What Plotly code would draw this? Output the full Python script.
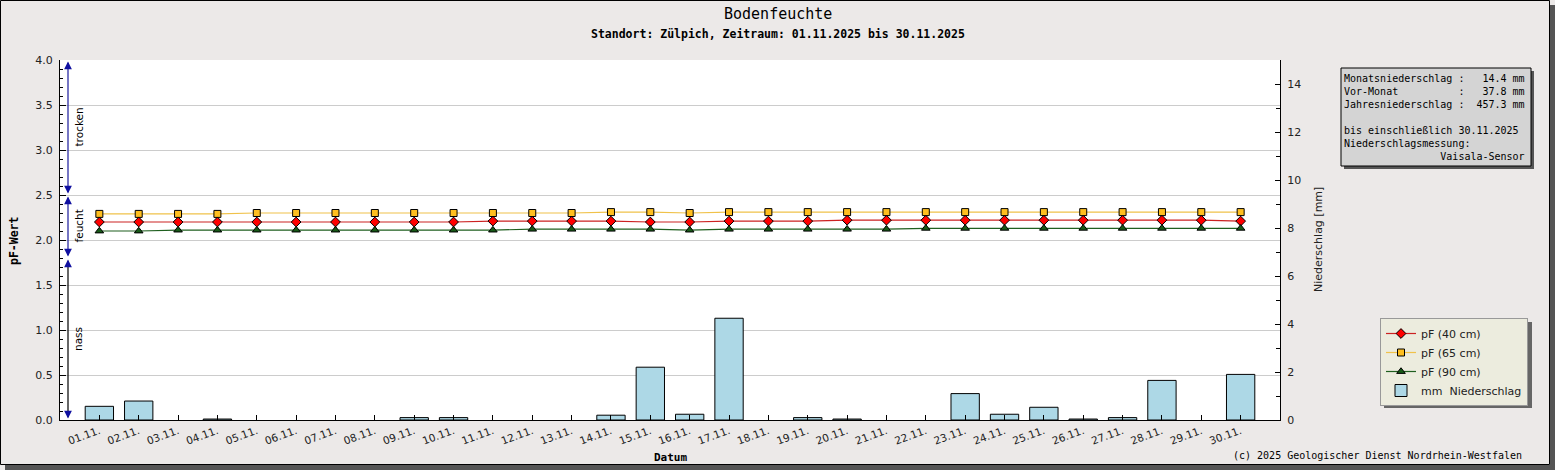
import plotly.graph_objects as go

# Tage im November 2025
tage = ["01.11.", "02.11.", "03.11.", "04.11.", "05.11.", "06.11.", "07.11.", "08.11.",
        "09.11.", "10.11.", "11.11.", "12.11.", "13.11.", "14.11.", "15.11.", "16.11.",
        "17.11.", "18.11.", "19.11.", "20.11.", "21.11.", "22.11.", "23.11.", "24.11.",
        "25.11.", "26.11.", "27.11.", "28.11.", "29.11.", "30.11."]

# pF-Werte je Tiefe
pf_40 = [2.20, 2.20, 2.20, 2.20, 2.20, 2.20, 2.20, 2.20, 2.20, 2.20,
         2.21, 2.21, 2.21, 2.21, 2.20, 2.20, 2.21, 2.21, 2.21, 2.22,
         2.22, 2.22, 2.22, 2.22, 2.22, 2.22, 2.22, 2.22, 2.22, 2.21]
pf_65 = [2.29, 2.29, 2.29, 2.29, 2.30, 2.30, 2.30, 2.30, 2.30, 2.30,
         2.30, 2.30, 2.30, 2.31, 2.31, 2.30, 2.31, 2.31, 2.31, 2.31,
         2.31, 2.31, 2.31, 2.31, 2.31, 2.31, 2.31, 2.31, 2.31, 2.31]
pf_90 = [2.10, 2.10, 2.11, 2.11, 2.11, 2.11, 2.11, 2.11, 2.11, 2.11,
         2.11, 2.12, 2.12, 2.12, 2.12, 2.11, 2.12, 2.12, 2.12, 2.12,
         2.12, 2.13, 2.13, 2.13, 2.13, 2.13, 2.13, 2.13, 2.13, 2.13]

# Niederschlag in mm
niederschlag = [0.57, 0.79, 0.0, 0.04, 0.0, 0.0, 0.0, 0.0, 0.1, 0.1,
                0.0, 0.0, 0.0, 0.2, 2.2, 0.24, 4.24, 0.0, 0.1, 0.04,
                0.0, 0.0, 1.1, 0.24, 0.53, 0.04, 0.1, 1.65, 0.0, 1.9]

# Bereiche fuer die Pfeile links
zonen = ["nass", "feucht", "trocken"]
zonen_grenzen = [0.0, 1.8, 2.5, 4.0]
zonen_farben = ["black", "#1c1c9c", "#1c1c9c"]

info_zeilen = [
    "Monatsniederschlag :   14.4 mm",
    "Vor-Monat          :   37.8 mm",
    "Jahresniederschlag :  457.3 mm",
    "",
    "bis einschließlich 30.11.2025",
    "Niederschlagsmessung:",
    "                Vaisala-Sensor",
]

W, H = 1555, 470
L, R, T, B = 60, 1280, 60, 420
BG = "#ece9e8"
MONO = "DejaVu Sans Mono"
SANS = "DejaVu Sans"


def xp(px):
    return (px - L) / (R - L)


def yp(py):
    return (B - py) / (B - T)


x = list(range(len(tage)))

fig = go.Figure()
fig.add_trace(go.Scatter(
    x=x, y=pf_40, name="pF (40 cm)", mode="lines+markers",
    line=dict(color="#cc2222", width=1.2),
    marker=dict(symbol="diamond", size=7.5, color="#ff0000", line=dict(color="black", width=1)),
))
fig.add_trace(go.Scatter(
    x=x, y=pf_65, name="pF (65 cm)", mode="lines+markers",
    line=dict(color="#f0c24a", width=1.2),
    marker=dict(symbol="square", size=7, color="#ffbf1f", line=dict(color="black", width=1)),
))
fig.add_trace(go.Scatter(
    x=x, y=pf_90, name="pF (90 cm)", mode="lines+markers",
    line=dict(color="#1f5f1f", width=1.2),
    marker=dict(symbol="triangle-up", size=7.5, color="#175a17", line=dict(color="black", width=1)),
))
fig.add_trace(go.Bar(
    x=x, y=niederschlag, name="mm\u00a0\u00a0Niederschlag", yaxis="y2", width=0.72,
    marker=dict(color="#add8e6",
                line=dict(color="black", width=[1 if v > 0 else 0 for v in niederschlag])),
))

shapes = []
annotations = []

# Rahmen mit Schatten
shapes.append(dict(type="rect", xref="paper", yref="paper", x0=xp(5), x1=xp(W), y0=yp(465), y1=yp(H),
                   fillcolor="#555555", line=dict(width=0), layer="below"))
shapes.append(dict(type="rect", xref="paper", yref="paper", x0=xp(1550), x1=xp(W), y0=yp(5), y1=yp(H),
                   fillcolor="#555555", line=dict(width=0), layer="below"))
shapes.append(dict(type="rect", xref="paper", yref="paper", x0=xp(0.5), x1=xp(1549.5), y0=yp(0.5), y1=yp(464.5),
                   line=dict(color="black", width=1), layer="below"))

# Infobox
shapes.append(dict(type="rect", xref="paper", yref="paper", x0=xp(1344), x1=xp(1534), y0=yp(71), y1=yp(169),
                   fillcolor="#555555", line=dict(width=0)))
shapes.append(dict(type="rect", xref="paper", yref="paper", x0=xp(1341), x1=xp(1531), y0=yp(68), y1=yp(166),
                   fillcolor="#d4d4d4", line=dict(color="black", width=1)))
annotations.append(dict(
    xref="paper", yref="paper", x=xp(1342), y=yp(71), xanchor="left", yanchor="top", align="left",
    showarrow=False, text="<br>".join(z.replace(" ", "\u00a0") if z else "\u00a0" for z in info_zeilen),
    font=dict(family=MONO, size=10, color="black"),
))

# Legendenschatten (Legende: 1380..1528 x 318..404)
shapes.append(dict(type="rect", xref="paper", yref="paper", x0=xp(1384), x1=xp(1532), y0=yp(322), y1=yp(408),
                   fillcolor="#666666", line=dict(width=0)))

# Pfeile fuer nass / feucht / trocken
xa = xp(68)
for i, name in enumerate(zonen):
    lo, hi = zonen_grenzen[i], zonen_grenzen[i + 1]
    shapes.append(dict(type="line", xref="paper", yref="y", x0=xa, x1=xa, y0=lo + 0.03, y1=hi - 0.03,
                       line=dict(color=zonen_farben[i], width=1.2)))
    for grenze, ay in ((hi, 7), (lo, -7)):
        annotations.append(dict(
            xref="paper", yref="y", x=xa, y=grenze, ax=0, ay=ay, text="", showarrow=True,
            arrowhead=2, arrowsize=1.4, arrowwidth=1.1, arrowcolor="#1010a0", standoff=1.5,
        ))
    annotations.append(dict(
        xref="paper", yref="y", x=xa, y=(lo + hi) / 2, xanchor="left", yanchor="middle", xshift=2,
        text=name, textangle=-90, showarrow=False, font=dict(family=SANS, size=10.5, color="black"),
    ))

# Titel und Achsentitel
annotations += [
    dict(xref="paper", yref="paper", x=xp(777.5), y=yp(14), text="Bodenfeuchte", showarrow=False,
         xanchor="center", yanchor="middle", font=dict(family=MONO, size=15, color="black")),
    dict(xref="paper", yref="paper", x=xp(777.5), y=yp(34),
         text="<b>Standort: Zülpich, Zeitraum: 01.11.2025 bis 30.11.2025</b>", showarrow=False,
         xanchor="center", yanchor="middle", font=dict(family=MONO, size=11.5, color="black")),
    dict(xref="paper", yref="paper", x=xp(14), y=0.5, text="<b>pF-Wert</b>", textangle=-90, showarrow=False,
         xanchor="center", yanchor="middle", font=dict(family=MONO, size=11.5, color="black")),
    dict(xref="paper", yref="paper", x=xp(1318), y=0.5, text="Niederschlag [mm]", textangle=-90,
         xanchor="center", yanchor="middle", showarrow=False, font=dict(family=SANS, size=11, color="#222")),
    dict(xref="paper", yref="paper", x=0.5, y=yp(457), text="<b>Datum</b>", showarrow=False,
         xanchor="center", yanchor="middle", font=dict(family=MONO, size=11, color="black")),
    dict(xref="paper", yref="paper", x=xp(1524), y=yp(455), xanchor="right", yanchor="middle",
         text="(c) 2025 Geologischer Dienst Nordrhein-Westfalen", showarrow=False,
         font=dict(family=MONO, size=10, color="black")),
]

fig.update_layout(
    width=W, height=H,
    margin=dict(l=L, r=W - R, t=T, b=H - B, pad=0),
    paper_bgcolor=BG, plot_bgcolor="white",
    showlegend=True,
    legend=dict(x=xp(1380), y=yp(318), xanchor="left", yanchor="top",
                bgcolor="#ececde", bordercolor="#999999", borderwidth=1,
                font=dict(family=SANS, size=11, color="#222"), itemwidth=30,
                tracegroupgap=0),
    xaxis=dict(range=[-1, 30], tickvals=x, ticktext=tage, tickangle=-20,
               ticks="inside", ticklen=5, tickcolor="black", showline=True, linecolor="black",
               linewidth=1, showgrid=False, zeroline=False,
               tickfont=dict(family=SANS, size=10.5, color="#222")),
    yaxis=dict(range=[0, 4], dtick=0.5, tickformat=".1f", ticks="inside", ticklen=6,
               tickcolor="black", showline=True, linecolor="black", linewidth=1,
               gridcolor="#cccccc", gridwidth=1, zeroline=False, ticklabelstandoff=4,
               minor=dict(dtick=0.1, ticks="inside", ticklen=3, tickcolor="black", showgrid=False),
               tickfont=dict(family=SANS, size=11, color="#222")),
    yaxis2=dict(range=[0, 15], dtick=2, overlaying="y", side="right", ticks="inside", ticklen=5,
                tickcolor="black", showline=True, linecolor="black", linewidth=1, showgrid=False,
                zeroline=False, ticklabelstandoff=4,
                minor=dict(dtick=1, ticks="inside", ticklen=4, tickcolor="black", showgrid=False),
                tickfont=dict(family=SANS, size=11, color="#222")),
    shapes=shapes,
    annotations=annotations,
)

fig.write_html("out.html", config={"displayModeBar": False},
               post_script="document.body.style.margin='0';")
